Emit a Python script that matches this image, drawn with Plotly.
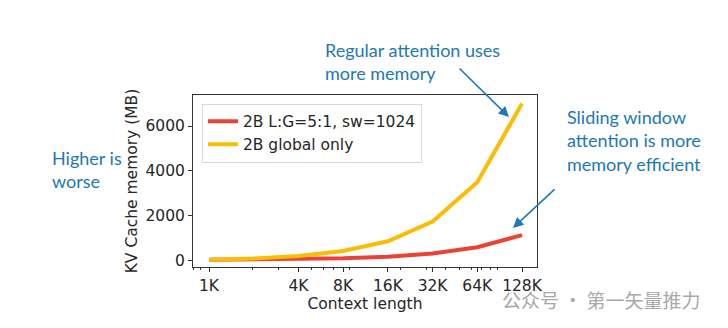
import plotly.graph_objects as go

context_tokens = [1024, 2048, 4096, 8192, 16384, 32768, 65536, 131072]
sliding_mb = [55, 65, 85, 120, 190, 330, 610, 1150]
global_mb = [55, 110, 220, 440, 875, 1750, 3500, 7000]
series_names = ["2B L:G=5:1, sw=1024", "2B global only"]
x_tickvals = [1024, 4096, 8192, 16384, 32768, 65536, 131072]
x_ticktext = ["1K", "4K", "8K", "16K", "32K", "64K", "128K"]
x_minor = [700, 800, 900, 2000, 3000, 5000, 6000, 7000, 9000,
           20000, 30000, 40000, 50000, 60000, 70000, 80000, 90000]
y_tickvals = [0, 2000, 4000, 6000]

RED = "#EA4335"
YELLOW = "#FBBC05"
BLUE = "#2178B5"
AX = "#333333"
FONT = "DejaVu Sans"
FS = 15.5

fig = go.Figure()
fig.add_trace(go.Scatter(x=context_tokens, y=sliding_mb, mode="lines",
                         name=series_names[0], line=dict(color=RED, width=4)))
fig.add_trace(go.Scatter(x=context_tokens, y=global_mb, mode="lines",
                         name=series_names[1], line=dict(color=YELLOW, width=4)))

W, H = 728, 328
L, R, T, B = 193, 537, 95, 267

fig.update_layout(
    width=W, height=H,
    margin=dict(l=L, r=W - R, t=T, b=H - B, pad=0),
    paper_bgcolor="white", plot_bgcolor="white",
    font=dict(family=FONT, size=FS, color="#262626"),
    showlegend=True,
    legend=dict(x=0.026, y=0.95, xanchor="left", yanchor="top",
                bgcolor="rgba(255,255,255,0.9)", bordercolor="#d9d9d9", borderwidth=1,
                font=dict(family=FONT, size=FS, color="#262626"),
                tracegroupgap=0, itemwidth=30),
    xaxis=dict(type="log", range=[2.9026, 5.2185],
               tickmode="array", tickvals=x_tickvals, ticktext=x_ticktext,
               ticks="outside", ticklen=4, tickwidth=1, tickcolor=AX,
               showline=True, linecolor=AX, linewidth=1, mirror=True,
               showgrid=False, zeroline=False,
               minor=dict(tickmode="array", tickvals=x_minor, ticks="outside",
                          ticklen=2, tickwidth=1, tickcolor=AX, showgrid=False),
               title=dict(text="Context length", standoff=2,
                          font=dict(family=FONT, size=FS, color="#262626"))),
    yaxis=dict(range=[-270, 7380], tickmode="array", tickvals=y_tickvals,
               ticks="outside", ticklen=4, tickwidth=1, tickcolor=AX,
               showline=True, linecolor=AX, linewidth=1, mirror=True,
               showgrid=False, zeroline=False,
               title=dict(text="KV Cache memory (MB)", standoff=4,
                          font=dict(family=FONT, size=FS, color="#262626"))),
)

HAND = "Lato"
def note(text, x, y):
    fig.add_annotation(text=text, xref="paper", yref="paper",
                       x=(x - L) / (R - L), y=(B - y) / (B - T),
                       xanchor="left", yanchor="top", align="left", showarrow=False,
                       font=dict(family=HAND, size=18, color=BLUE))

note("Regular attention uses<br>more memory", 323, 37)
note("Sliding window<br>attention is more<br>memory efficient", 565, 104)
note("Higher is<br>worse", 50, 145)

def arrow(x0, y0, x1, y1):
    fig.add_annotation(xref="paper", yref="paper", axref="pixel", ayref="pixel",
                       x=(x1 - L) / (R - L), y=(B - y1) / (B - T),
                       ax=x0 - x1, ay=y0 - y1, text="", showarrow=True,
                       arrowhead=2, arrowsize=1.3, arrowwidth=1.6, arrowcolor=BLUE)

arrow(458, 67, 509, 117)
arrow(556, 188, 513, 228)

fig.add_annotation(text="公众号 · 第一矢量推力", xref="paper", yref="paper",
                   x=(500 - L) / (R - L), y=(B - 299) / (B - T),
                   xanchor="left", yanchor="middle", showarrow=False,
                   font=dict(family="Noto Sans CJK SC", size=19, color="#a8a8a8"))

fig.write_html("out.html")
